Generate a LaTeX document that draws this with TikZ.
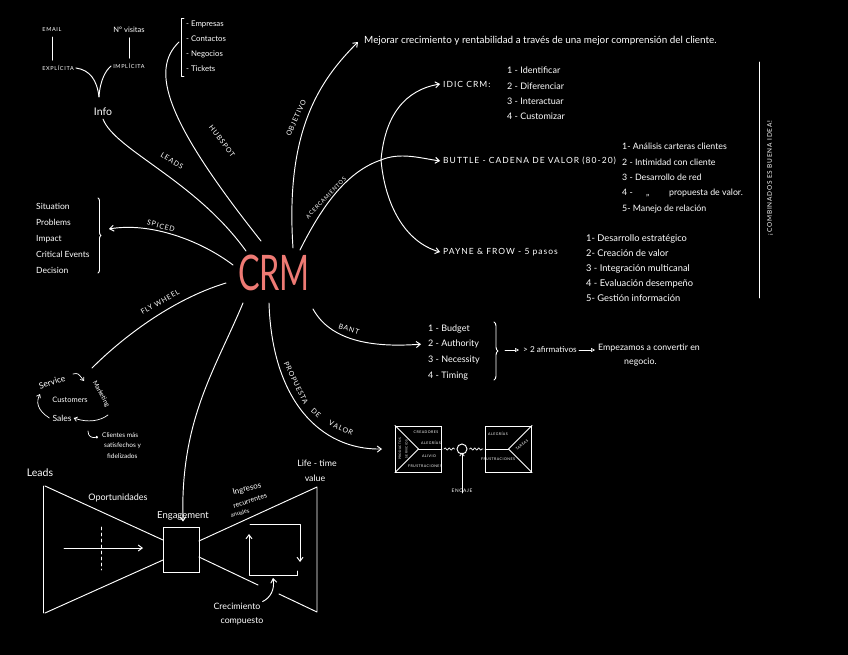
\documentclass[tikz,border=0pt]{standalone}
\usepackage{fontspec}
\setmainfont{Lato}
\newfontfamily\capsf[LetterSpace=12]{Lato}
\usetikzlibrary{arrows.meta,decorations.pathmorphing,decorations.pathreplacing,calc}
\definecolor{crmred}{RGB}{238,122,116}
\begin{document}
\begin{tikzpicture}[x=1pt,y=-1pt,
  every node/.style={text=white, inner sep=0pt, font=\fontsize{8}{9}\selectfont},
  ln/.style={draw=white, line width=0.95pt, line cap=round, line join=round},
  arr/.style={ln, -{Straight Barb[length=4pt,width=6pt]}},
  sarr/.style={ln, line width=0.7pt, -{Straight Barb[length=3pt,width=4.5pt]}},
  tarr/.style={ln, line width=0.7pt, -{Triangle[open,length=4pt,width=4pt]}},
  capl/.style={font=\capsf\fontsize{7}{8}\selectfont},
  item/.style={anchor=base west},
  tinyt/.style={font=\capsf\fontsize{3.6}{4}\selectfont},
  boxsq/.style={draw=white, line width=0.95pt, minimum width=46pt, minimum height=46pt},
  wavy/.style={ln, line width=0.7pt, decorate, decoration={snake, amplitude=1.1pt, segment length=4pt}}
]
\fill[black] (0,0) rectangle (848,655);
\useasboundingbox (0,0) rectangle (848,655);

% ---------- centre ----------
\node[text=crmred] (crm) at (274,273) {\scalebox{0.66}[1]{\fontsize{49}{52}\selectfont CRM}};

% ---------- Info ----------
\node[capl, font=\capsf\fontsize{5.5}{6}\selectfont] (email) at (52,30) {EMAIL};
\node[font=\fontsize{7.5}{8}\selectfont] (nvis) at (129,30) {Nº visitas};
\node[capl, font=\capsf\fontsize{5.5}{6}\selectfont] (expl) at (58,68) {EXPLÍCITA};
\node[capl, font=\capsf\fontsize{5.5}{6}\selectfont] (impl) at (129,66) {IMPLÍCITA};
\node[font=\fontsize{10.5}{11}\selectfont] (info) at (103,112) {Info};
\draw[ln] ([yshift=-5pt]email.south) -- ([yshift=5pt]email.south |- expl.north);
\draw[ln] ([yshift=-5pt]nvis.south -| impl.north) -- ([yshift=5pt]impl.north);
\coordinate (vv) at (99,97);
\draw[ln] ([xshift=2pt]expl.east) .. controls (90,70) and (97,80) .. (vv);
\draw[ln] ([xshift=-2pt]impl.west) .. controls (106,70) and (100,80) .. (vv);

% ---------- HubSpot ----------
\foreach \t [count=\i] in {{- Empresas},{- Contactos},{- Negocios},{- Tickets}}
  \node[item, font=\fontsize{7.8}{9}\selectfont] (hs\i) at (186,{27+15*(\i-1)}) {\t};
\draw[ln] (184,18) -- (181,18) -- (181,76) -- (184,76);
\coordinate (hsb) at (179,42);
\draw[ln] (hsb) .. controls (150,70) and (165,120) .. ($(crm.center)+(-13,-32)$);
\node[capl, rotate=-53] (hslab) at (222,141) {HUBSPOT};

% ---------- Leads ----------
\draw[ln] ([yshift=-3pt]info.south) .. controls (115,150) and (195,180) .. ($(crm.center)+(-28,-22)$);
\node[capl, rotate=-32] (leadslab) at (172,161) {LEADS};

% ---------- Objetivo ----------
\coordinate (objt) at (358,42);
\draw[arr] ($(crm.center)+(19,-25)$) .. controls (285,130) and (320,80) .. (objt);
\node[capl, rotate=66] (objlab) at (296,118) {OBJETIVO};
\node[anchor=west, font=\fontsize{9.9}{11}\selectfont] (objtxt) at (364,41) {Mejorar crecimiento y rentabilidad a través de una mejor comprensión del cliente.};

% ---------- Acercamientos ----------
\coordinate (br) at (381,160);
\draw[ln] ($(crm.center)+(26,-23)$) .. controls (320,210) and (345,172) .. (br);
\node[capl, font=\capsf\fontsize{5.6}{6}\selectfont, rotate=46] (acclab) at (326,198) {ACERCAMIENTOS};
\node[anchor=west, font=\capsf\fontsize{8.5}{9}\selectfont] (idic) at (443,84) {IDIC CRM:};
\foreach \t [count=\i] in {{1 - Identificar},{2 - Diferenciar},{3 - Interactuar},{4 - Customizar}}
  \node[item, font=\fontsize{9}{10}\selectfont] (id\i) at (507,{74+15.3*(\i-1)}) {\t};
\node[anchor=west, font=\capsf\fontsize{8.5}{9}\selectfont] (buttle) at (443,161) {BUTTLE - CADENA DE VALOR (80-20)};
\foreach \t [count=\i] in {{1- Análisis carteras clientes},{2 - Intimidad con cliente},{3 - Desarrollo de red},{4 - \quad\ ,, \qquad propuesta de valor.},{5- Manejo de relación}}
  \node[item, font=\fontsize{8.8}{10}\selectfont] (bu\i) at (622,{150+15.3*(\i-1)}) {\t};
\node[anchor=west, font=\capsf\fontsize{8.5}{9}\selectfont] (payne) at (443,252) {PAYNE \& FROW - 5 pasos};
\foreach \t [count=\i] in {{1- Desarrollo estratégico},{2- Creación de valor},{3 - Integración multicanal},{4 - Evaluación desempeño},{5- Gestión información}}
  \node[item, font=\fontsize{9.3}{10}\selectfont] (pf\i) at (586,{241+15.2*(\i-1)}) {\t};
\draw[arr] (br) .. controls (385,115) and (405,90) .. ([xshift=-3pt]idic.west);
\draw[arr] (br) .. controls (400,152) and (420,158) .. ([xshift=-3pt]buttle.west);
\draw[arr] (br) .. controls (385,205) and (405,242) .. ([xshift=-3pt]payne.west);
\coordinate (vtop) at (759,62);
\coordinate (vbot) at (759,298);
\draw[ln, line width=0.7pt] (vtop) -- (vbot);
\node[rotate=90, font=\capsf\fontsize{6.5}{7}\selectfont] (comb) at (770,178) {¡COMBINADOS ES BUENA IDEA!};

% ---------- SPICED ----------
\foreach \t [count=\i] in {{Situation},{Problems},{Impact},{Critical Events},{Decision}}
  \node[item, font=\fontsize{8.5}{9}\selectfont] (sp\i) at (36,{209+16*(\i-1)}) {\t};
\draw[ln, decorate, decoration={brace, amplitude=3pt}] (98,198) -- (98,273);
\coordinate (spt) at (109,229);
\draw[arr] ($(crm.center)+(-41,-8)$) .. controls (200,240) and (150,222) .. (spt);
\node[capl, rotate=-15] (spclab) at (161,226) {SPICED};

% ---------- Flywheel ----------
\coordinate (fwe) at (92,368);
\draw[ln] ($(crm.center)+(-48,10)$) .. controls (170,300) and (120,340) .. (fwe);
\node[capl, rotate=30] (fwlab) at (160,302) {FLY WHEEL};
\node[rotate=18, font=\fontsize{8.5}{9}\selectfont] (serv) at (52,382) {Service};
\node[rotate=-62, font=\fontsize{6.5}{7}\selectfont] (mkt) at (101,394) {Marketing};
\node[font=\fontsize{7.5}{8}\selectfont] (cust) at (70,400) {Customers};
\node[font=\fontsize{8.5}{9}\selectfont] (sales) at (62,418) {Sales};
\draw[sarr] (73,374) .. controls (78,373) .. (84,381);
\draw[sarr] (108,415) .. controls (100,421) and (88,423) .. ([xshift=2pt]sales.east);
\draw[sarr] ([xshift=-3pt]sales.west) .. controls (37,410) and (36,402) .. (40,394);
\foreach \t/\dx [count=\i] in {{Clientes más}/0,{satisfechos y}/2,{fidelizados}/5}
  \node[item, font=\fontsize{6.5}{7}\selectfont] (cl\i) at ({102+\dx},{437+10.5*(\i-1)}) {\t};
\draw[ln, line width=0.7pt, -{Circle[open,length=2.5pt]}] (88,431) .. controls (88,437) and (92,438) .. (98,437);

% ---------- BANT ----------
\foreach \t [count=\i] in {{1 - Budget},{2 - Authority},{3 - Necessity},{4 - Timing}}
  \node[item, font=\fontsize{9}{10}\selectfont] (bt\i) at (428,{331+15.7*(\i-1)}) {\t};
\draw[arr] ($(crm.center)+(39,36)$) .. controls (330,340) and (370,348) .. ([shift={(-7,0)}]bt2.west);
\node[capl, rotate=-18] (bantlab) at (349,329) {BANT};
\draw[ln, decorate, decoration={brace, amplitude=4pt}] (494,322) -- (494,380);
\node[anchor=west, font=\fontsize{8.2}{9}\selectfont] (afirm) at (523,350) {> 2 afirmativos};
\draw[tarr] (505,350) -- ([xshift=-4pt]afirm.west);
\node[item, font=\fontsize{8.8}{9}\selectfont] (emp1) at (598,350) {Empezamos a convertir en};
\node[item, font=\fontsize{8.8}{9}\selectfont] (emp2) at (624,364) {negocio.};
\draw[tarr] ([xshift=2pt]afirm.east) -- ([xshift=-3pt]emp1.west |- afirm.east);

% ---------- Propuesta de valor ----------
\node[boxsq] (lb) at (418.5,449) {};
\node[boxsq] (rb) at (508.5,449) {};
\draw[arr] ($(crm.center)+(-5,30)$) .. controls (272,400) and (320,450) .. ([xshift=-13pt]lb.west);
\node[capl, rotate=-64] (pv1) at (296,383) {PROPUESTA};
\node[capl, rotate=-42] (pv2) at (316,413) {DE};
\node[capl, rotate=-25] (pv3) at (341,428) {VALOR};
\draw[ln] (lb.north west) -- (lb.center) -- (lb.south west);
\draw[ln] (lb.center) -- (lb.east);
\node[tinyt] (t1) at (426,432) {CREADORES};
\node[tinyt] (t2) at (431,443) {ALEGRÍAS};
\node[tinyt] (t3) at (429,456) {ALIVIO};
\node[tinyt] (t4) at (425,466) {FRUSTRACIONES};
\node[tinyt, font=\capsf\fontsize{3.1}{3.5}\selectfont, rotate=90] (t5) at (400,449) {PRODUCTOS};
\node[tinyt, font=\capsf\fontsize{3.1}{3.5}\selectfont, rotate=90] (t6) at (406.5,449) {SERVICIOS};
\draw[ln] (rb.west) -- (rb.center);
\draw[ln] (rb.north east) -- (rb.center) -- (rb.south east);
\node[tinyt] (r1) at (498,434) {ALEGRÍAS};
\node[tinyt] (r2) at (498,459) {FRUSTRACIONES};
\node[tinyt, rotate=40] (r3) at (522,445) {TAREAS};
\node[draw=white, line width=0.95pt, circle, minimum size=10pt] (fit) at (462,449) {};
\draw[wavy] ([xshift=2pt]lb.east) -- ([xshift=-2pt]fit.west);
\draw[wavy] ([xshift=2pt]fit.east) -- ([xshift=-2pt]rb.west);
\node[font=\capsf\fontsize{4.8}{5}\selectfont] (encaje) at (462,491) {ENCAJE};
\draw[sarr] ([yshift=-4pt]encaje.north) -- ([yshift=2pt]fit.south);

% ---------- Bow tie ----------
\node[boxsq, minimum width=36pt, minimum height=45pt] (eng) at (181,549.5) {};
\node[font=\fontsize{10.5}{11}\selectfont] (leads) at (40,473) {Leads};
\node[font=\fontsize{9}{10}\selectfont] (oport) at (118,498) {Oportunidades};
\node[font=\fontsize{9.5}{10}\selectfont] (engt) at (183,516) {Engagement};
\draw[arr] ($(crm.center)+(-31,30)$) .. controls (215,370) and (180,420) .. ([yshift=-10pt]engt.north);
\draw[ln] (43,486) -- (43,613);
\draw[ln] (45,486) -- (163,540);
\draw[ln] (45,613) -- (163,560);
\draw[ln] (199,541) -- (317,487) -- (317,612) -- (279,594);
\draw[ln] (199,557) -- (258,585);
\draw[arr] (64,548) -- (143,548);
\draw[ln, dashed, line width=0.7pt] (101,527) -- (101,570);
\draw[arr] (250,524) -- (300,524) -- (300,562);
\draw[arr] (297,571) -- (297,575) -- (249,575) -- (249,534);
\node[rotate=14, font=\fontsize{8}{9}\selectfont] (ing1) at (247,489) {Ingresos};
\node[rotate=18, font=\fontsize{7}{8}\selectfont] (ing2) at (250,501) {recurrentes};
\node[rotate=16, font=\fontsize{5.8}{6}\selectfont] (ing3) at (240,513) {anuales};
\node[font=\fontsize{8.8}{9}\selectfont] (ltv1) at (317,463) {Life - time};
\node[font=\fontsize{8.8}{9}\selectfont] (ltv2) at (315,478) {value};
\node[font=\fontsize{8.8}{9}\selectfont] (crec1) at (237,606) {Crecimiento};
\node[font=\fontsize{8.8}{9}\selectfont] (crec2) at (242,621) {compuesto};
\draw[arr] ([shift={(2,-1)}]crec1.north east) .. controls (270,598) and (275,590) .. (273,578);
\end{tikzpicture}
\end{document}
